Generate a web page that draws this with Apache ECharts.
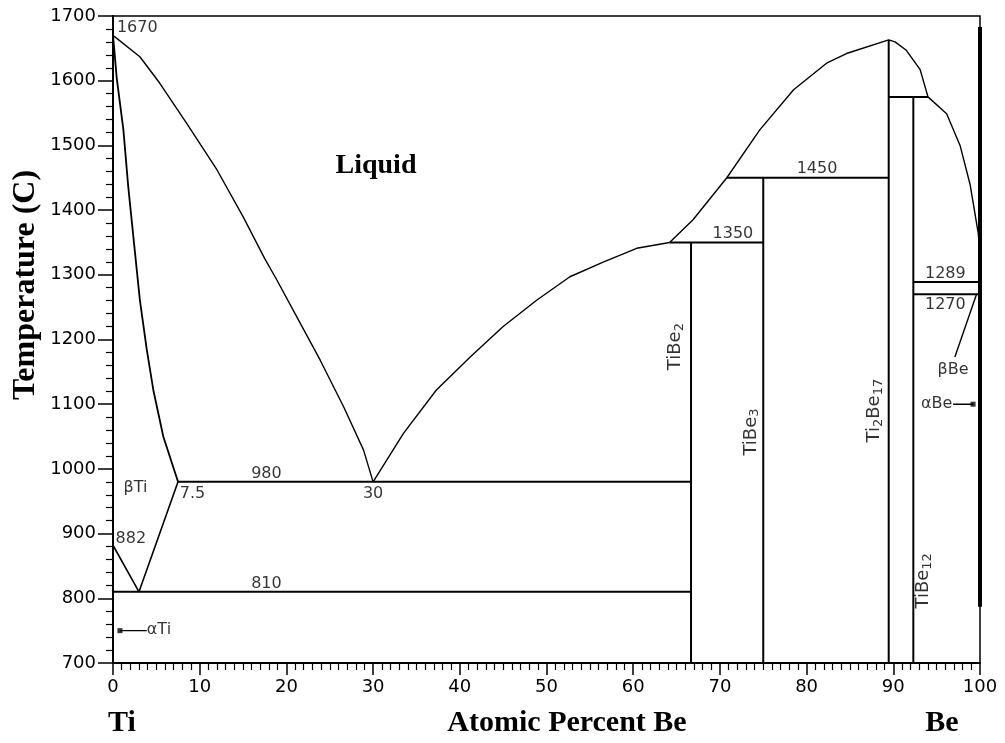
<!DOCTYPE html>
<html>
<head>
<meta charset="utf-8">
<title>Ti–Be phase diagram</title>
<script src="https://cdn.jsdelivr.net/npm/echarts@6.0.0/dist/echarts.min.js"></script>
<style>
  html, body { margin: 0; padding: 0; background: #fff; }
  #chart { width: 1005px; height: 743px; }
</style>
</head>
<body>
<div id="chart"></div>
<script>
// ---- Invariant temperatures (°C) ----
const T_MELT_TI = 1670;
const T_TRANS_TI = 882;
const T_EUTECTIC = 980;
const T_EUTECTOID = 810;
const T_TIBE2 = 1350;
const T_TIBE3 = 1450;
const T_TIBE12 = 1575;
const T_TI2BE17 = 1663;
const T_BE_MELT = 1289;
const T_BE_TRANS = 1270;
const T_ALPHA_TI = 750;
const T_ALPHA_BE = 1100;

// ---- Compositions (at.% Be) ----
const X_BTI_MAX = 7.5;
const X_EUTECTIC = 30;
const X_EUTECTOID = 3;
const X_TIBE2 = 66.67;
const X_TIBE3 = 75;
const X_TI2BE17 = 89.47;
const X_TIBE12 = 92.31;
const X_LIQ_TIBE2 = 64.2;
const X_LIQ_TIBE3 = 70.8;
const X_LIQ_TIBE12 = 94.0;

// ---- Phase boundaries [at.% Be, °C] ----
const liquidusTi = [[0, 1670], [3.1, 1637], [5.4, 1596], [8.5, 1534], [12.0, 1462], [15.0, 1390],
  [17.5, 1325], [18.9, 1292], [21.2, 1235], [23.9, 1168], [26.6, 1096], [28.9, 1029], [30, 980]];
const solidusBetaTi = [[0, 1670], [0.2, 1640], [0.43, 1604], [1.2, 1524], [1.76, 1436], [2.54, 1334],
  [3.1, 1261], [3.9, 1184], [4.65, 1122], [5.8, 1050], [7.5, 980]];
const liquidusTiBe2 = [[30, 980], [33.5, 1055], [37.3, 1122], [41.2, 1173], [45.0, 1220], [48.9, 1261],
  [52.7, 1297], [56.6, 1320], [60.4, 1341], [64.2, 1350]];
const liquidusBeRich = [[64.2, 1350], [66.9, 1385], [70.8, 1450], [74.6, 1524], [78.5, 1586],
  [82.3, 1627], [84.6, 1642], [89.47, 1663], [90.2, 1660], [91.5, 1647], [93.1, 1617], [94.0, 1575],
  [96.15, 1549], [97.7, 1500], [98.85, 1440], [99.8, 1364], [100, 1330]];
const solvusBetaBe = [[99.6, 1270], [97.1, 1173]];
const betaTiTransus = [[0, T_TRANS_TI], [X_EUTECTOID, T_EUTECTOID], [X_BTI_MAX, T_EUTECTIC]];
const beSolidSolution = [[100, 1683], [100, 787]];

// ---- Axis ticks ----
const xMin = 0, xMax = 100, xStep = 10;
const yMin = 700, yMax = 1700, yStep = 100;

const series = [];
function path(points, width) {
  series.push({
    type: 'line', data: points, symbol: 'none', showSymbol: false, silent: true,
    animation: false, z: 2, lineStyle: { color: '#000', width: width }
  });
}

// curves
path(liquidusTi, 1.4);
path(solidusBetaTi, 1.8);
path(liquidusTiBe2, 1.4);
path(liquidusBeRich, 1.4);
path(betaTiTransus, 1.6);
path(solvusBetaBe, 1.4);
path(beSolidSolution, 4);

// isotherms
path([[0, T_EUTECTOID], [X_TIBE2, T_EUTECTOID]], 2);
path([[X_BTI_MAX, T_EUTECTIC], [X_TIBE2, T_EUTECTIC]], 2);
path([[X_LIQ_TIBE2, T_TIBE2], [X_TIBE3, T_TIBE2]], 2);
path([[X_LIQ_TIBE3, T_TIBE3], [X_TI2BE17, T_TIBE3]], 2);
path([[X_TI2BE17, T_TIBE12], [X_LIQ_TIBE12, T_TIBE12]], 2);
path([[X_TIBE12, T_BE_MELT], [100, T_BE_MELT]], 2);
path([[X_TIBE12, T_BE_TRANS], [100, T_BE_TRANS]], 2);

// line compounds
path([[X_TIBE2, yMin], [X_TIBE2, T_TIBE2]], 2);
path([[X_TIBE3, yMin], [X_TIBE3, T_TIBE3]], 2);
path([[X_TI2BE17, yMin], [X_TI2BE17, T_TI2BE17]], 2);
path([[X_TIBE12, yMin], [X_TIBE12, T_TIBE12]], 2);

// pointers to the terminal solid solutions
path([[0.8, T_ALPHA_TI], [3.9, T_ALPHA_TI]], 1.4);
path([[96.9, T_ALPHA_BE], [99.2, T_ALPHA_BE]], 1.4);
series.push({
  type: 'scatter', symbol: 'rect', symbolSize: 5, silent: true, animation: false, z: 3,
  itemStyle: { color: '#000' },
  data: [[0.8, T_ALPHA_TI], [99.2, T_ALPHA_BE]]
});

// ---- Text annotations ----
const sansFont = '"DejaVu Sans", sans-serif';
const subStyle = { fontSize: 13, fontFamily: sansFont, color: '#000', padding: [8, 0, 0, 0], textBorderWidth: 0 };
const normStyle = { fontSize: 18, fontFamily: sansFont, color: '#000', textBorderWidth: 0 };
const notes = [];
function note(text, x, y, opts) {
  notes.push({
    value: [x, y],
    label: Object.assign({ formatter: text, align: 'center', verticalAlign: 'middle' }, opts || {})
  });
}
note(String(T_MELT_TI), 0.45, 1681, { align: 'left' });
note(String(T_EUTECTIC), 17.7, 993);
note(String(T_EUTECTOID), 17.7, 822);
note(String(X_BTI_MAX), 7.7, 962, { align: 'left' });
note(String(X_EUTECTIC), 30.0, 962);
note(String(T_TRANS_TI), 0.3, 892, { align: 'left' });
note('βTi', 2.6, 970);
note('αTi', 3.9, 752, { align: 'left' });
note(String(T_TIBE2), 71.5, 1364);
note(String(T_TIBE3), 81.2, 1464);
note(String(T_BE_MELT), 96.0, 1302);
note(String(T_BE_TRANS), 96.0, 1253);
note('βBe', 96.9, 1153);
note('αBe', 96.8, 1101, { align: 'right' });
const richSub = { n: normStyle, s: subStyle };
note('{n|TiBe}{s|2}', 64.9, 1189, { rotate: 90, rich: richSub });
note('{n|TiBe}{s|3}', 73.6, 1057, { rotate: 90, rich: richSub });
note('{n|Ti}{s|2}{n|Be}{s|17}', 87.8, 1090, { rotate: 90, rich: richSub });
note('{n|TiBe}{s|12}', 93.5, 827, { rotate: 90, rich: richSub });

series.push({
  type: 'scatter', symbolSize: 0, silent: true, animation: false, z: 5,
  itemStyle: { color: '#000' },
  label: {
    show: true, position: 'inside', color: '#000', fontSize: 16, fontFamily: sansFont,
    textBorderWidth: 0, textBorderColor: 'transparent'
  },
  data: notes
});

const chart = echarts.init(document.getElementById('chart'), null, { renderer: 'canvas' });
const serif = '"Liberation Serif", "Times New Roman", serif';
chart.setOption({
  animation: false,
  backgroundColor: '#fff',
  grid: { left: 113, right: 25, top: 16, bottom: 80, show: true, borderColor: '#000', borderWidth: 1.5, backgroundColor: 'transparent' },
  xAxis: {
    type: 'value', min: xMin, max: xMax, interval: xStep,
    axisLine: { show: true, onZero: false, lineStyle: { color: '#000', width: 2 } },
    axisTick: { show: true, length: 12, lineStyle: { color: '#000', width: 1.5 } },
    minorTick: { show: true, splitNumber: 10, length: 7, lineStyle: { color: '#000', width: 1.2 } },
    axisLabel: { color: '#000', fontSize: 18, fontFamily: sansFont, margin: 15, formatter: v => String(v) },
    splitLine: { show: false }
  },
  yAxis: {
    type: 'value', min: yMin, max: yMax, interval: yStep,
    axisLine: { show: true, onZero: false, lineStyle: { color: '#000', width: 2 } },
    axisTick: { show: true, length: 15, lineStyle: { color: '#000', width: 1.5 } },
    minorTick: { show: true, splitNumber: 5, length: 7, lineStyle: { color: '#000', width: 1.2 } },
    axisLabel: { color: '#000', fontSize: 18, fontFamily: sansFont, margin: 17, formatter: v => String(v) },
    splitLine: { show: false }
  },
  graphic: [
    { type: 'text', x: 376, y: 166, style: { text: 'Liquid', font: 'bold 28px ' + serif, fill: '#000', align: 'center', verticalAlign: 'middle' } },
    { type: 'text', x: 122, y: 723, style: { text: 'Ti', font: 'bold 30px ' + serif, fill: '#000', align: 'center', verticalAlign: 'middle' } },
    { type: 'text', x: 942, y: 723, style: { text: 'Be', font: 'bold 30px ' + serif, fill: '#000', align: 'center', verticalAlign: 'middle' } },
    { type: 'text', x: 567, y: 723, style: { text: 'Atomic Percent Be', font: 'bold 30px ' + serif, fill: '#000', align: 'center', verticalAlign: 'middle' } },
    { type: 'text', x: 26, y: 285, rotation: Math.PI / 2, style: { text: 'Temperature (C)', font: 'bold 32px ' + serif, fill: '#000', align: 'center', verticalAlign: 'middle' } }
  ],
  series: series
});
</script>
</body>
</html>
